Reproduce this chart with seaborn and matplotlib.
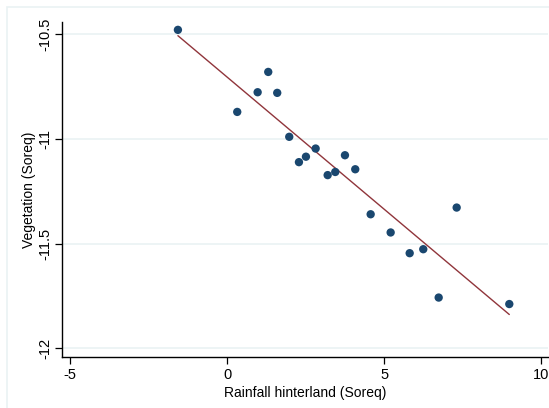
import matplotlib
matplotlib.use("Agg")
import matplotlib.pyplot as plt
import seaborn as sns
import pandas as pd
from matplotlib.patches import Rectangle

rainfall = [-1.571, 0.319, 0.969, 1.307, 1.593, 1.976, 2.285, 2.508, 2.817, 3.200,
            3.442, 3.751, 4.079, 4.570, 5.207, 5.813, 6.246, 6.737, 7.310, 8.987]
vegetation = [-10.479, -10.871, -10.777, -10.680, -10.780, -10.990, -11.111, -11.085,
              -11.046, -11.173, -11.158, -11.078, -11.145, -11.360, -11.447, -11.546,
              -11.527, -11.758, -11.328, -11.789]
xticks = [-5, 0, 5, 10]
yticks = [-10.5, -11, -11.5, -12]
ytick_labels = ["-10.5", "-11", "-11.5", "-12"]

df = pd.DataFrame({"rain": rainfall, "veg": vegetation})

sns.set_theme(style="white")
plt.rcParams['font.family'] = ['Liberation Sans', 'DejaVu Sans']

fig = plt.figure(figsize=(5.49, 4.08), dpi=100)
W, H = 549, 408
fig.patches.append(Rectangle((7 / W, -0.1), 1.2, (H - 7) / H + 0.1, transform=fig.transFigure,
                             fill=False, edgecolor="#eaf2f3", linewidth=1.2))
ax = fig.add_axes([61.5 / W, (H - 357) / H, (548 - 61.5) / W, (357 - 21.7) / H])
ax.set_facecolor("none")

sns.regplot(data=df, x="rain", y="veg", ax=ax, ci=None,
            scatter_kws=dict(s=36, color="#1a476f", edgecolors="none", alpha=1, zorder=3),
            line_kws=dict(color="#90353b", linewidth=1.0, zorder=2))

ax.set_xlim(-5.28, 10.22)
ax.set_ylim(-12.042, -10.44)
ax.set_xticks(xticks)
ax.set_xticklabels([str(t) for t in xticks])
ax.set_yticks(yticks)
ax.set_yticklabels(ytick_labels, rotation=90, va="center")
for y in yticks:
    ax.axhline(y, color="#eaf2f3", linewidth=1.2, zorder=0)

for s in ["top", "right"]:
    ax.spines[s].set_visible(False)
for s in ["left", "bottom"]:
    ax.spines[s].set_color("black")
    ax.spines[s].set_linewidth(1.0)
ax.tick_params(axis="both", direction="out", length=5, width=0.9, color="black",
               labelsize=10.5, labelcolor="black", pad=3, left=True, bottom=True)
ax.tick_params(axis="y", pad=1.5)
ax.set_xlabel("Rainfall hinterland (Soreq)", fontsize=10, color="black", labelpad=3)
ax.set_ylabel("Vegetation (Soreq)", fontsize=10, color="black", labelpad=2)

fig.savefig("out.png", dpi=100)
